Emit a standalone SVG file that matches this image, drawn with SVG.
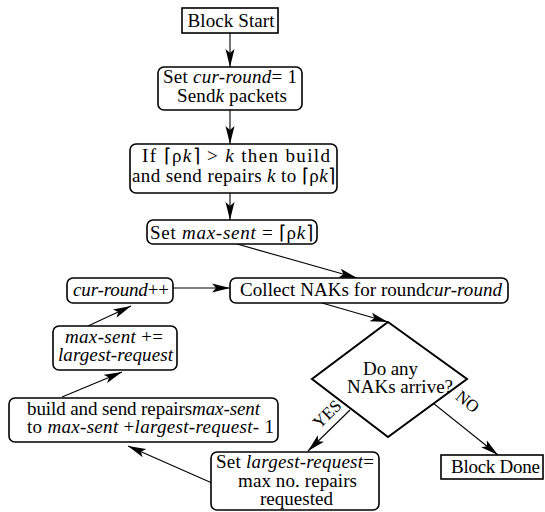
<svg xmlns="http://www.w3.org/2000/svg" width="545" height="512" viewBox="0 0 545 512" font-family="Liberation Serif, serif">
<defs>
<style>
text{font-family:Liberation Serif,serif;font-size:19px;fill:#000;text-anchor:middle}
.i{font-style:italic}
.box{fill:#fff;stroke:#000;stroke-width:1.6}
.con{stroke:#000;stroke-width:1.1;fill:none;marker-end:url(#ah)}
.lbl{font-size:17px}
</style>
<marker id="ah" markerUnits="userSpaceOnUse" viewBox="0 -5 18 10" refX="18" refY="0" markerWidth="18" markerHeight="10" orient="auto">
<path d="M0,-4.5 L18,0 L0,4.5 L4,0 Z" fill="#000"/>
</marker>
</defs>
<rect width="545" height="512" fill="#fff"/>
<g id="connectors">
<line class="con" x1="230" y1="33" x2="230" y2="67"/>
<line class="con" x1="230" y1="110" x2="230" y2="144"/>
<line class="con" x1="230" y1="193" x2="230" y2="220"/>
<line class="con" x1="237" y1="244" x2="357" y2="278"/>
<line class="con" x1="173" y1="288" x2="230" y2="288"/>
<line class="con" x1="322" y1="303" x2="388" y2="322"/>
<line class="con" x1="350" y1="410" x2="308" y2="451"/>
<line class="con" x1="433" y1="403" x2="498" y2="455"/>
<line class="con" x1="212" y1="483" x2="128" y2="446"/>
<line class="con" x1="62" y1="397" x2="122" y2="372"/>
<line class="con" x1="88" y1="326" x2="131" y2="306"/>
<text class="lbl" transform="translate(331,418) rotate(-44)">YES</text>
<text class="lbl" transform="translate(464,406) rotate(39)">NO</text>
</g>
<g id="block-start">
<rect class="box" x="182" y="8" width="96" height="25"/>
<text x="231" y="27" textLength="87" lengthAdjust="spacing">Block Start</text>
</g>
<g id="set-cur-round">
<rect class="box" x="158" y="67" width="144" height="43" rx="6"/>
<text x="230" y="83" textLength="134" lengthAdjust="spacing">Set <tspan class="i">cur-round</tspan>= 1</text>
<text x="232" y="102" textLength="110" lengthAdjust="spacing">Send<tspan class="i">k</tspan> packets</text>
</g>
<g id="build-initial">
<rect class="box" x="130" y="144" width="207" height="49" rx="6"/>
<text x="236" y="162" textLength="188" lengthAdjust="spacing">If ⌈ρ<tspan class="i">k</tspan>⌉ &gt; <tspan class="i">k</tspan> then build</text>
<text x="233.5" y="182" textLength="203" lengthAdjust="spacing">and send repairs <tspan class="i">k</tspan> to ⌈ρ<tspan class="i">k</tspan>⌉</text>
</g>
<g id="set-max-sent">
<rect class="box" x="147" y="220" width="170" height="24" rx="6"/>
<text x="231.5" y="239" textLength="163" lengthAdjust="spacing">Set <tspan class="i">max-sent</tspan> = ⌈ρ<tspan class="i">k</tspan>⌉</text>
</g>
<g id="cur-round-inc">
<rect class="box" x="67" y="278" width="106" height="25" rx="6"/>
<text x="121" y="296" textLength="96" lengthAdjust="spacing"><tspan class="i">cur-round</tspan>++</text>
</g>
<g id="collect-naks">
<rect class="box" x="230" y="278" width="278" height="25" rx="6"/>
<text x="371" y="296" textLength="262" lengthAdjust="spacing">Collect NAKs for round<tspan class="i">cur-round</tspan></text>
</g>
<g id="max-sent-inc">
<rect class="box" x="53" y="326" width="124" height="44" rx="6"/>
<text x="114" y="343" textLength="98" lengthAdjust="spacing"><tspan class="i">max-sent</tspan> +=</text>
<text x="115.5" y="361" class="i" textLength="115" lengthAdjust="spacing">largest-request</text>
</g>
<g id="decision">
<polygon points="388,322 467,379 388,437 312,379" fill="#fff" stroke="#000" stroke-width="2"/>
<text x="390.5" y="375" textLength="55" lengthAdjust="spacing">Do any</text>
<text x="400" y="393" textLength="106" lengthAdjust="spacing">NAKs arrive?</text>
</g>
<g id="build-repairs">
<rect class="box" x="9" y="398" width="269" height="44" rx="6"/>
<text x="143.5" y="415" textLength="233" lengthAdjust="spacing">build and send repairs<tspan class="i">max-sent</tspan></text>
<text x="150.5" y="433" textLength="247" lengthAdjust="spacing">to <tspan class="i">max-sent</tspan> +<tspan class="i">largest-request</tspan>- 1</text>
</g>
<g id="set-largest">
<rect class="box" x="211" y="452" width="168" height="58" rx="6"/>
<text x="295" y="468" textLength="158" lengthAdjust="spacing">Set <tspan class="i">largest-request</tspan>=</text>
<text x="297.5" y="487" textLength="119" lengthAdjust="spacing">max no. repairs</text>
<text x="296.5" y="505" textLength="73" lengthAdjust="spacing">requested</text>
</g>
<g id="block-done">
<rect class="box" x="441" y="455" width="102" height="24"/>
<text x="495.5" y="473" textLength="89" lengthAdjust="spacing">Block Done</text>
</g>
</svg>
